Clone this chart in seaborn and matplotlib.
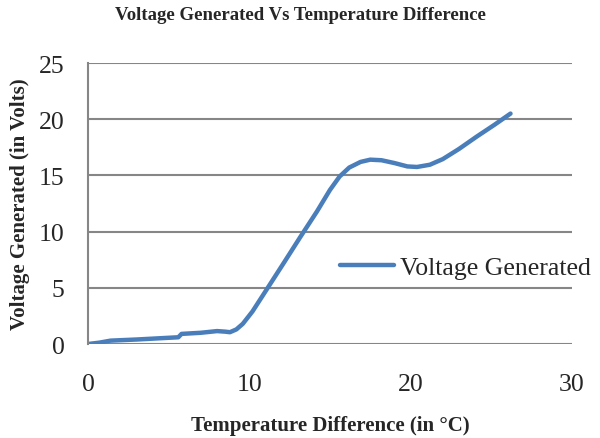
import pandas as pd
import seaborn as sns
import matplotlib.pyplot as plt

# values
temp_diff = [0, 0.7, 1.4, 3.0, 5.6, 5.8, 7.0, 8.0, 8.5, 8.8, 9.2, 9.6, 10.2,
             11.1, 12.2, 13.2, 14.2, 15.0, 15.6, 16.2, 16.9, 17.5, 18.2, 19.0,
             19.8, 20.4, 21.2, 22.0, 23.0, 24.1, 25.2, 26.2]
voltage = [0, 0.12, 0.3, 0.4, 0.6, 0.9, 1.0, 1.15, 1.1, 1.05, 1.3, 1.8, 2.9,
           4.9, 7.35, 9.6, 11.8, 13.7, 14.9, 15.7, 16.2, 16.4, 16.35, 16.1,
           15.8, 15.75, 15.95, 16.45, 17.35, 18.45, 19.5, 20.5]
x_ticks = [0, 10, 20, 30]
y_ticks = [0, 5, 10, 15, 20, 25]

df = pd.DataFrame({'temp': temp_diff, 'volt': voltage})

sns.set_style("white")
plt.rcParams['font.family'] = ['Liberation Serif', 'DejaVu Serif']

fig = plt.figure(figsize=(6, 4.39), dpi=100)
ax = fig.add_axes([0.1467, 0.2141, 0.8063, 0.6401])

sns.lineplot(data=df, x='temp', y='volt', ax=ax, color='#4A7EBB',
             linewidth=3.2, label='Voltage Generated',
             solid_capstyle='round', solid_joinstyle='round')

ax.set_xlim(0, 30)
ax.set_ylim(0, 25)
ax.set_xticks(x_ticks)
ax.set_yticks(y_ticks)
ax.tick_params(axis='both', labelsize=18.5, length=0)
ax.tick_params(axis='x', pad=21)
ax.tick_params(axis='y', pad=17)

ax.yaxis.grid(True, color='#868686', linewidth=1.5)
ax.set_axisbelow(True)
for side in ['top', 'right', 'bottom']:
    ax.spines[side].set_visible(False)
ax.spines['left'].set_color('#868686')
ax.spines['left'].set_linewidth(1.5)

ax.set_xlabel('Temperature Difference (in °C)', fontsize=15, fontweight='bold', labelpad=14)
ax.set_ylabel('Voltage Generated (in Volts)', fontsize=15, fontweight='bold', labelpad=6)
fig.suptitle('Voltage Generated Vs Temperature Difference', fontsize=13.5,
             fontweight='bold', x=0.5, y=0.985)

ax.legend(loc='center left', bbox_to_anchor=(0.52, 0.273), frameon=False,
          fontsize=18.5, handlelength=2.1, handletextpad=0.25, borderpad=0,
          borderaxespad=0)

plt.savefig('out.png', dpi=100)
